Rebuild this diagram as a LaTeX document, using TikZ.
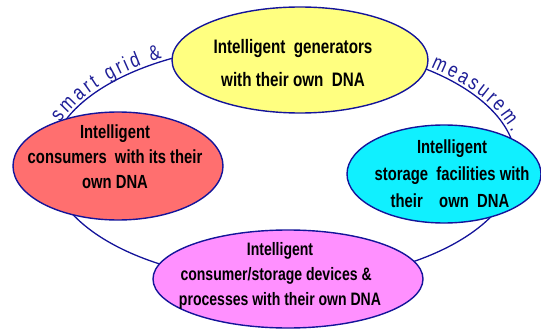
\documentclass[tikz,border=0pt]{standalone}
\usepackage{fontspec}
\setmainfont{Liberation Sans}
\newfontfamily\ellfont{Liberation Sans}[FakeStretch=0.78]
\newfontfamily\arcfont{Liberation Sans}[FakeStretch=0.8]
\usetikzlibrary{shapes.geometric,decorations.text}
\definecolor{navyline}{HTML}{14149A}
\definecolor{lblue}{HTML}{1E1E96}
\definecolor{yfill}{HTML}{FFFF80}
\definecolor{rfill}{HTML}{FF6F6F}
\definecolor{cfill}{HTML}{10F0FF}
\definecolor{mfill}{HTML}{FF90FF}
\tikzset{
  ell/.style={ellipse, draw=navyline, line width=1.4pt, inner sep=0pt},
  ringline/.style={draw=navyline, line width=1.3pt},
  ltext/.style={align=center, anchor=base, inner sep=0pt, text=black},
}
\begin{document}
\begin{tikzpicture}[x=1pt,y=1pt]
\useasboundingbox (0,0) rectangle (541,330);
\coordinate (ringc) at (283,167);
\draw[ringline] (ringc) ellipse[x radius=233pt, y radius=119pt];

\node[ell, fill=yfill, minimum width=256pt, minimum height=106pt] (gen) at (300,270) {};
\node[ell, fill=rfill, minimum width=210pt, minimum height=108pt] (cons) at (118,164) {};
\node[ell, fill=cfill, minimum width=194pt, minimum height=98pt] (stor) at (444,156) {};
\node[ell, fill=mfill, minimum width=270pt, minimum height=98pt] (dev) at (288,51) {};

\node[ltext, font=\ellfont\bfseries\fontsize{19.5}{33}\selectfont] (gent) at (293,243)
  {Intelligent\ \ generators\\with their own\ \ DNA};
\node[ltext, font=\ellfont\bfseries\fontsize{19}{25}\selectfont] (const) at (115,142)
  {Intelligent\\consumers\ \ with its their\\own DNA};
\node[ltext, font=\ellfont\bfseries\fontsize{19}{27}\selectfont] (stort) at (452,123)
  {Intelligent\\storage\ \ facilities with\\their\ \ \ \ own\ \ DNA\ \ };
\node[ltext, font=\ellfont\bfseries\fontsize{18}{25}\selectfont] (devt) at (280,25)
  {Intelligent\\consumer/storage devices \&\ \ \ \ \\processes with their own DNA};

\path[decorate, decoration={text along path,
    text={|\arcfont\fontsize{21}{21}\selectfont|smart grid {\&}},
    text color=lblue, text align=fit to path, raise=3pt}]
  ([shift={(161:233pt and 119pt)}]ringc)
  arc[start angle=161, end angle=121, x radius=233pt, y radius=119pt];
\path[decorate, decoration={text along path,
    text={|\arcfont\fontsize{21}{21}\selectfont|measurem.},
    text color=lblue, text align=fit to path, raise=3pt}]
  ([shift={(51:233pt and 119pt)}]ringc)
  arc[start angle=51, end angle=14, x radius=233pt, y radius=119pt];
\end{tikzpicture}
\end{document}
